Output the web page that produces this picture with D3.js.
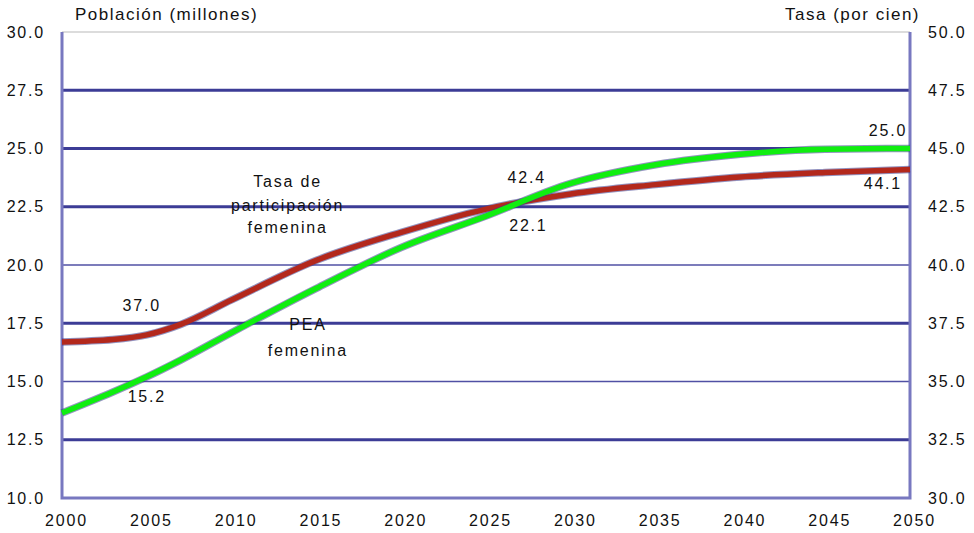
<!DOCTYPE html>
<html>
<head>
<meta charset="utf-8">
<script src="https://cdn.jsdelivr.net/npm/d3@7"></script>
<style>
    body { margin: 0; background: #fff; }
    svg text { font-family: "Liberation Sans", Arial, sans-serif; fill: #111; }
</style>
</head>
<body>
<svg id="chart" width="974" height="533"></svg>
<script>
// values
var years = [2000, 2003, 2005, 2007, 2010, 2015, 2020, 2025, 2030, 2035, 2040, 2045, 2050];
var tasa = [36.7, 36.8, 37.0, 37.45, 38.5, 40.2, 41.4, 42.4, 43.05, 43.45, 43.78, 43.97, 44.1];
var pea = [13.65, 14.55, 15.2, 15.92, 17.1, 19.0, 20.75, 22.1, 23.5, 24.3, 24.75, 24.97, 25.0];

var leftTicks = [10, 12.5, 15, 17.5, 20, 22.5, 25, 27.5, 30];
var rightTicks = [30, 32.5, 35, 37.5, 40, 42.5, 45, 47.5, 50];
var yearTicks = [2000, 2005, 2010, 2015, 2020, 2025, 2030, 2035, 2040, 2045, 2050];
var thickGrid = [12.5, 17.5, 22.5, 25, 27.5];
var thinGrid = [15, 20];

var labels = [
    { text: 'Tasa de', year: 2013.3, v: 23.6, axis: 'l' },
    { text: 'participación', year: 2013.3, v: 22.55, axis: 'l' },
    { text: 'femenina', year: 2013.3, v: 21.6, axis: 'l' },
    { text: 'PEA', year: 2014.5, v: 17.45, axis: 'l' },
    { text: 'femenina', year: 2014.5, v: 16.35, axis: 'l' },
    { text: '37.0', year: 2004.7, v: 37.0, axis: 'r', dy: -29 },
    { text: '15.2', year: 2005, v: 15.2, axis: 'l', dy: 20 },
    { text: '42.4', year: 2027.4, v: 42.4, axis: 'r', dy: -32 },
    { text: '22.1', year: 2027.5, v: 22.1, axis: 'l', dy: 9 },
    { text: '25.0', year: 2048.7, v: 25.0, axis: 'l', dy: -18 },
    { text: '44.1', year: 2048.4, v: 44.1, axis: 'r', dy: 14 }
];

var svg = d3.select('#chart');
var m = { left: 62, right: 910, top: 32, bottom: 498 };

var x = d3.scaleLinear().domain([2000, 2050]).range([m.left, m.right]);
var yl = d3.scaleLinear().domain([10, 30]).range([m.bottom, m.top]);
var yr = d3.scaleLinear().domain([30, 50]).range([m.bottom, m.top]);

// top border
svg.append('line')
    .attr('x1', m.left).attr('x2', m.right)
    .attr('y1', m.top).attr('y2', m.top)
    .style('stroke', '#dcdcdc').style('stroke-width', 2);

// grid lines
svg.selectAll('.grid-thick').data(thickGrid).enter().append('line')
    .attr('x1', m.left).attr('x2', m.right)
    .attr('y1', function(d) { return yl(d); })
    .attr('y2', function(d) { return yl(d); })
    .style('stroke', '#3c3c96').style('stroke-width', 3);
svg.selectAll('.grid-thin').data(thinGrid).enter().append('line')
    .attr('x1', m.left).attr('x2', m.right)
    .attr('y1', function(d) { return yl(d); })
    .attr('y2', function(d) { return yl(d); })
    .style('stroke', '#5050a4').style('stroke-width', 1.5);

// axes frame
svg.append('path')
    .attr('d', 'M' + m.left + ',' + m.top + 'V' + m.bottom + 'H' + m.right + 'V' + m.top)
    .style('fill', 'none').style('stroke', '#7878c0').style('stroke-width', 3);

var fmt = d3.format('.1f');

var gl = svg.append('g').attr('transform', 'translate(' + (m.left - 14) + ',0)')
    .call(d3.axisLeft(yl).tickValues(leftTicks).tickFormat(fmt).tickSize(0));
var gr = svg.append('g').attr('transform', 'translate(' + (m.right + 15) + ',0)')
    .call(d3.axisRight(yr).tickValues(rightTicks).tickFormat(fmt).tickSize(0));
var gb = svg.append('g').attr('transform', 'translate(4,' + (m.bottom + 14) + ')')
    .call(d3.axisBottom(x).tickValues(yearTicks).tickFormat(d3.format('d')).tickSize(0));

[gl, gr, gb].forEach(function(g) {
    g.select('.domain').remove();
    g.selectAll('text')
        .style('font-family', '"Liberation Sans", Arial, sans-serif')
        .style('font-size', '16px')
        .style('letter-spacing', '1.8px')
        .style('fill', '#111');
});

// axis titles
svg.append('text').attr('x', 75).attr('y', 20)
    .style('font-size', '17px').style('letter-spacing', '1.5px')
    .text('Población (millones)');
svg.append('text').attr('x', 920).attr('y', 20).attr('text-anchor', 'end')
    .style('font-size', '17px').style('letter-spacing', '1.5px')
    .text('Tasa (por cien)');

// series
function drawLine(vals, yScale, color) {
    var line = d3.line()
        .x(function(d, i) { return x(years[i]); })
        .y(function(d) { return yScale(d); })
        .curve(d3.curveMonotoneX);
    svg.append('path').datum(vals)
        .attr('d', line)
        .style('fill', 'none').style('stroke', '#3a3a8c')
        .style('stroke-width', 7.5).style('stroke-opacity', 0.55);
    svg.append('path').datum(vals)
        .attr('d', line)
        .style('fill', 'none').style('stroke', color)
        .style('stroke-width', 5.5);
}

drawLine(tasa, yr, '#b3281c');
drawLine(pea, yl, '#10ee10');

// annotations
svg.selectAll('.note').data(labels).enter().append('text')
    .attr('x', function(d) { return x(d.year); })
    .attr('y', function(d) { return (d.axis == 'l' ? yl(d.v) : yr(d.v)) + (d.dy || 0); })
    .attr('text-anchor', 'middle')
    .attr('dominant-baseline', 'central')
    .style('font-size', '16px')
    .style('letter-spacing', '1.8px')
    .text(function(d) { return d.text; });
</script>
</body>
</html>
